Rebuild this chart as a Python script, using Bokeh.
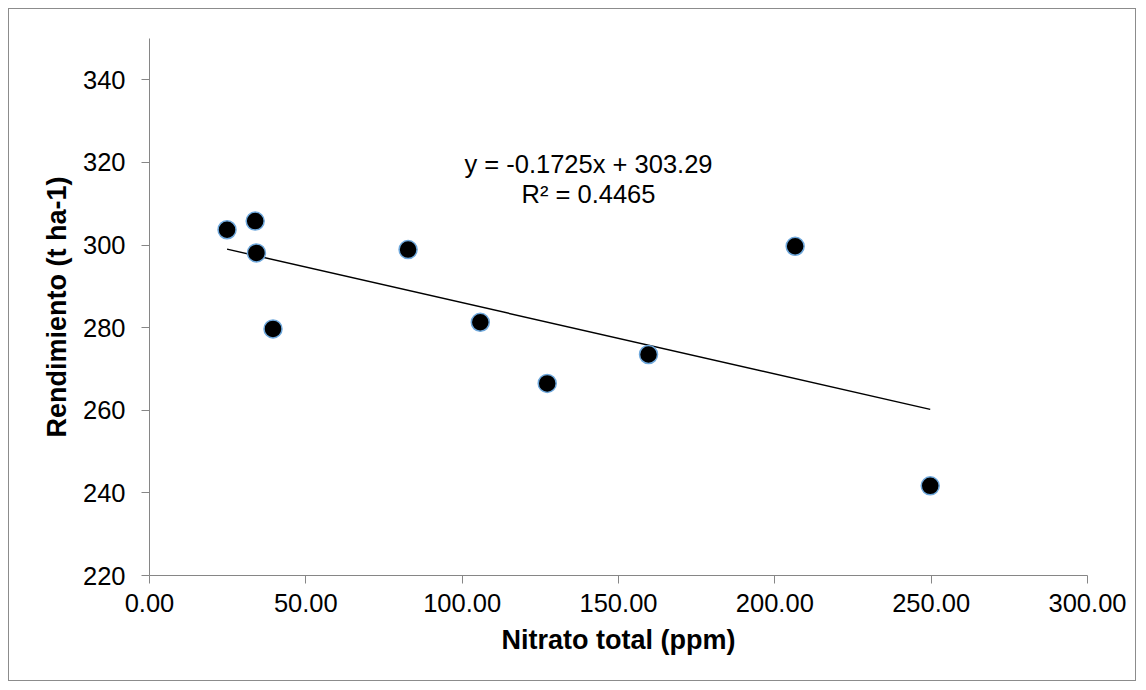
from bokeh.plotting import figure
from bokeh.models import Range1d, FixedTicker, NumeralTickFormatter, Label, ColumnDataSource
from bokeh.embed import file_html
from bokeh.resources import INLINE

# Data
nitrato = [24.8, 33.8, 34.2, 39.5, 82.7, 105.8, 127.2, 159.6, 206.5, 249.7]
rendimiento = [303.7, 305.8, 298.1, 279.7, 298.9, 281.3, 266.5, 273.5, 299.7, 241.7]
slope = -0.1725
intercept = 303.29
eq_text = "y = -0.1725x + 303.29"
r2_text = "R² = 0.4465"
x_ticks = [0, 50, 100, 150, 200, 250, 300]
y_ticks = [220, 240, 260, 280, 300, 320, 340]

FONT = "Liberation Sans"
GRAY = "#868686"

p = figure(width=1128, height=673, output_backend="svg", toolbar_location=None,
           x_range=Range1d(0, 300), y_range=Range1d(220, 350),
           min_border_left=140, min_border_right=50, min_border_top=29, min_border_bottom=107)
p.styles = {"margin-left": "8px", "margin-top": "8px", "border": "1px solid #8c8c8c"}
p.outline_line_color = None
p.xgrid.visible = False
p.ygrid.visible = False
p.background_fill_color = "white"
p.border_fill_color = "white"

for ax in (p.xaxis[0], p.yaxis[0]):
    ax.axis_line_color = GRAY
    ax.major_tick_line_color = GRAY
    ax.minor_tick_line_color = None
    ax.major_tick_in = 0
    ax.major_tick_out = 8
    ax.major_label_text_font = FONT
    ax.major_label_text_font_size = "25.5px"
    ax.major_label_text_color = "black"
    ax.axis_label_text_font = FONT
    ax.axis_label_text_font_size = "27px"
    ax.axis_label_text_font_style = "bold"
    ax.axis_label_text_color = "black"

p.xaxis.ticker = FixedTicker(ticks=x_ticks)
p.yaxis.ticker = FixedTicker(ticks=y_ticks)
p.xaxis.formatter = NumeralTickFormatter(format="0.00")
p.xaxis.axis_label = "Nitrato total (ppm)"
p.yaxis.axis_label = "Rendimiento (t ha-1)"
p.xaxis.major_label_standoff = 10
p.yaxis.major_label_standoff = 16
p.xaxis.axis_label_standoff = 10
p.yaxis.axis_label_standoff = 8

# trend line over the data's x extent
x0, x1 = min(nitrato), max(nitrato)
p.line([x0, x1], [slope * x0 + intercept, slope * x1 + intercept], line_color="black", line_width=1.5)

src = ColumnDataSource(dict(x=nitrato, y=rendimiento))
p.scatter("x", "y", source=src, size=18, fill_color="black", line_color="#6FA8DC", line_width=1.5)

p.add_layout(Label(x=140.4, y=319.6, text=eq_text, text_align="center", text_baseline="alphabetic",
                   text_font=FONT, text_font_size="25.5px", text_color="black"))
p.add_layout(Label(x=140.4, y=312.4, text=r2_text, text_align="center", text_baseline="alphabetic",
                   text_font=FONT, text_font_size="25.5px", text_color="black"))

open("out.html", "w").write(file_html(p, INLINE))
